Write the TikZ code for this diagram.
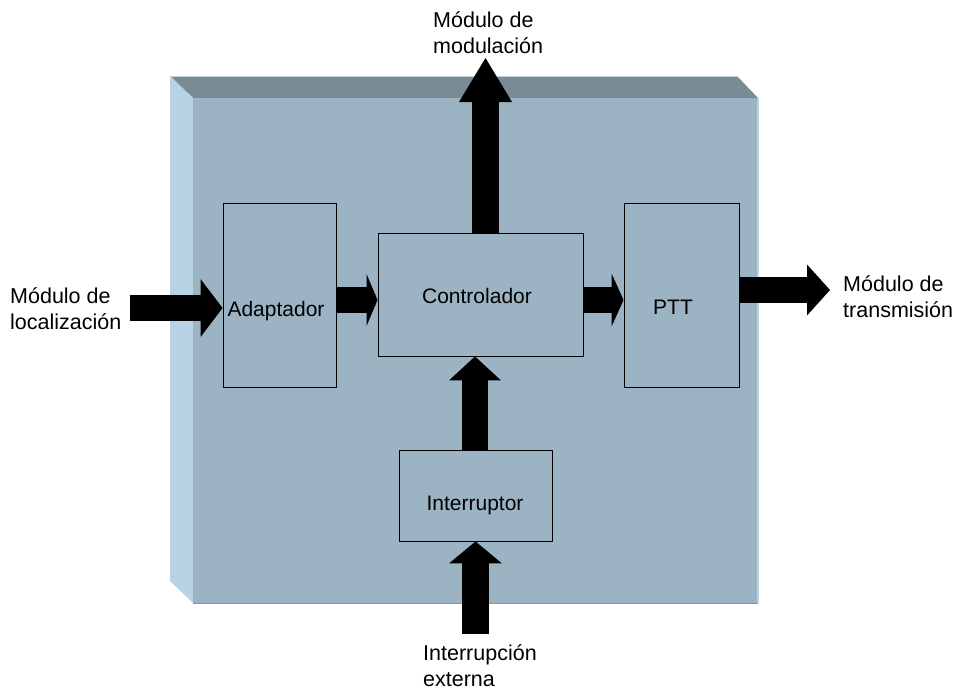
\documentclass[tikz,border=0pt]{standalone}
\usepackage{fontspec}
\setmainfont{Liberation Sans}
\usetikzlibrary{arrows.meta}
\definecolor{facefront}{RGB}{155,179,195}
\definecolor{facetop}{RGB}{122,139,150}
\definecolor{faceside}{RGB}{183,211,228}
\definecolor{edgelight}{RGB}{200,212,220}
\definecolor{edgedark}{RGB}{130,150,163}
\begin{document}
\begin{tikzpicture}[x=1pt,y=-1pt,
  box/.style={draw=black, line width=0.9pt, inner sep=0pt},
  lbl/.style={font=\fontsize{21}{25}\selectfont, inner sep=0pt, anchor=base},
  note/.style={font=\fontsize{21.5}{25.5}\selectfont, inner sep=0pt, align=left, anchor=base west},
  bigarrow/.style 2 args={line width=26.5pt, draw=black,
    -{Triangle[width=#1pt, length=#2pt, line width=0pt]}}
]
\useasboundingbox (0,0) rectangle (956,689);

% raised panel: top face, left face, front face
\fill[facetop] (170,76) -- (737,76) -- (758,98) -- (193,98) -- cycle;
\fill[faceside] (170,76) -- (193,98) -- (193,603) -- (170,581) -- cycle;
\fill[facefront] (193,98) rectangle (758,603);
\draw[edgelight, line width=1pt] (170,76.5) -- (737,76.5);
\draw[faceside, line width=1.5pt] (758,98) -- (758,603);
\draw[edgedark, line width=1pt] (193,603) -- (758,603);

% functional blocks
\node[box, minimum width=113pt, minimum height=184pt] (adapt) at (279.5,295) {};
\node[box, minimum width=205pt, minimum height=123pt] (ctrl) at (480.5,294.5) {};
\node[box, minimum width=115pt, minimum height=184pt] (ptt) at (681.5,295) {};
\node[box, minimum width=153pt, minimum height=91pt] (intr) at (475.5,495.5) {};

\node[lbl] (adaptlbl) at (276,316) {Adaptador};
\node[lbl] (ctrllbl) at (477,303) {Controlador};
\node[lbl] (pttlbl) at (673,314) {PTT};
\node[lbl] (intrlbl) at (475,510) {Interruptor};

% external ends
\coordinate (inL) at (130,308);
\coordinate (outR) at (830,290);
\coordinate (outT) at (485.5,58);
\coordinate (inB) at (475.5,634);

% data flow
\draw[bigarrow={58}{22}] (inL) -- (adapt.west |- inL);
\draw[bigarrow={52}{11}] (adapt.east |- 0,300) -- (ctrl.west |- 0,300);
\draw[bigarrow={53}{12}] (ctrl.east |- 0,300) -- (ptt.west |- 0,300);
\draw[bigarrow={51}{23}] (ptt.east |- outR) -- (outR);
\draw[bigarrow={53}{44}] (ctrl.north -| outT) -- (outT);
\draw[bigarrow={52}{24}] (intr.north -| 475,0) -- (ctrl.south -| 475,0);
\draw[bigarrow={53}{22}] (inB) -- (intr.south -| inB);

% external module names (anchored at the baseline of the last line)
\node[note] (locname) at (10,329) {Módulo de\\localización};
\node[note] (txname) at (843,317) {Módulo de\\transmisión};
\node[note] (modname) at (433,53) {Módulo de\\modulación};
\node[note] (extname) at (423,686) {Interrupción\\externa};
\end{tikzpicture}
\end{document}
